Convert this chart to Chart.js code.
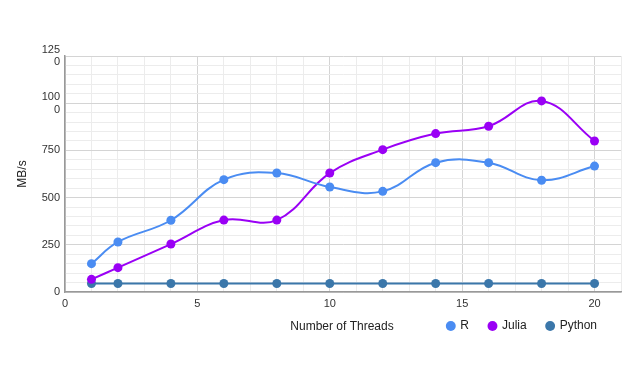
<!DOCTYPE html>
<html>
<head>
<meta charset="utf-8">
<script src="https://cdn.jsdelivr.net/npm/chart.js@4.4.0/dist/chart.umd.min.js"></script>
<style>
html,body{margin:0;padding:0;background:#fff;}
#wrap{width:640px;height:365px;position:relative;}
</style>
</head>
<body>
<div id="wrap"><canvas id="c" width="640" height="365"></canvas></div>
<script>
const threads = [1, 2, 4, 6, 8, 10, 12, 14, 16, 18, 20];
const rValues = [150, 265, 380, 595, 630, 556, 533, 685, 685, 592, 667];
const juliaValues = [67, 129, 254, 381, 381, 630, 754, 839, 878, 1012, 800];
const pythonValues = [45, 45, 45, 45, 45, 45, 45, 45, 45, 45, 45];
const yTickLabels = {0: '0', 250: '250', 500: '500', 750: '750', 1000: ['100', '0'], 1250: ['125', '0']};
const xTickLabels = {0: '0', 5: '5', 10: '10', 15: '15', 20: '20'};

const toPts = (vals) => threads.map((t, i) => ({x: t, y: vals[i]}));

const layoutPlugin = {
  id: 'xTitleAndLegendShift',
  beforeDraw(chart) {
    const lg = chart.legend;
    if (lg && !lg._shifted) {
      lg.left -= 4;
      lg.right -= 4;
      lg.top -= 12;
      lg.bottom -= 12;
      lg._shifted = true;
    }
  },
  afterUpdate(chart) {
    if (chart.legend) chart.legend._shifted = false;
  },
  afterDraw(chart) {
    const ctx = chart.ctx;
    ctx.save();
    ctx.font = '12px "Liberation Sans", Arial, sans-serif';
    ctx.fillStyle = '#222';
    ctx.textAlign = 'center';
    ctx.textBaseline = 'middle';
    ctx.fillText('Number of Threads', 342, 327);
    ctx.restore();
  }
};

const ds = (label, vals, color, tension) => ({
  label, data: toPts(vals), borderColor: color, backgroundColor: color,
  tension, borderWidth: 2, pointRadius: 4.5, pointHoverRadius: 4.5, pointBorderWidth: 0
});

new Chart(document.getElementById('c'), {
  type: 'line',
  data: {
    datasets: [
      ds('R', rValues, '#4a8cf2', 0.4),
      ds('Julia', juliaValues, '#9a00f5', 0.4),
      ds('Python', pythonValues, '#3b77aa', 0)
    ]
  },
  options: {
    responsive: false,
    animation: false,
    layout: {padding: {left: 0, right: 19, top: 56, bottom: 11}},
    plugins: {
      tooltip: {enabled: false},
      legend: {
        position: 'bottom',
        align: 'end',
        labels: {
          usePointStyle: true,
          pointStyle: 'circle',
          boxWidth: 7,
          boxHeight: 7,
          padding: 20,
          color: '#222',
          font: {family: '"Liberation Sans", Arial, sans-serif', size: 12}
        }
      }
    },
    scales: {
      x: {
        type: 'linear',
        min: 0,
        max: 21,
        afterFit(s) { s.height = 20; },
        border: {color: '#999', width: 1.5},
        grid: {
          color: (c) => (c.tick && c.tick.value % 5 === 0) ? '#d4d4d4' : '#ececec',
          drawTicks: false
        },
        ticks: {
          stepSize: 1,
          autoSkip: false,
          maxRotation: 0,
          padding: 5,
          color: '#333',
          font: {family: '"Liberation Sans", Arial, sans-serif', size: 11},
          callback: (v) => xTickLabels[v] !== undefined ? xTickLabels[v] : ''
        }
      },
      y: {
        min: 0,
        max: 1250,
        afterFit(s) { s.width = 65; },
        border: {color: '#999', width: 1.5},
        title: {
          display: true,
          text: 'MB/s',
          color: '#222',
          font: {family: '"Liberation Sans", Arial, sans-serif', size: 12},
          padding: {top: 15, bottom: 0}
        },
        grid: {
          color: (c) => (c.tick && c.tick.value % 250 === 0) ? '#d4d4d4' : '#ececec',
          drawTicks: false
        },
        ticks: {
          stepSize: 50,
          autoSkip: false,
          padding: 5,
          color: '#333',
          font: {family: '"Liberation Sans", Arial, sans-serif', size: 11, lineHeight: 1.15},
          callback: (v) => yTickLabels[v] !== undefined ? yTickLabels[v] : ''
        }
      }
    }
  },
  plugins: [layoutPlugin]
});
</script>
</body>
</html>
